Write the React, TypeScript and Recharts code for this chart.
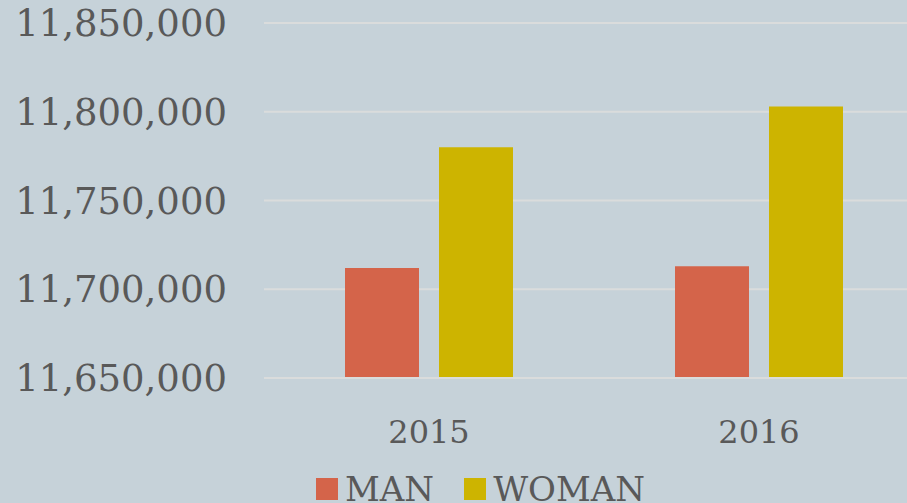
import React from 'react'
import { BarChart, Bar, XAxis, YAxis, CartesianGrid, Legend } from 'recharts'

const years = ['2015', '2016']
const manValues = [11712000, 11713000]
const womanValues = [11780000, 11803000]
const yTicks = [11650000, 11700000, 11750000, 11800000, 11850000]

const seriesNames = { man: 'MAN', woman: 'WOMAN' }
const colors = { man: '#d4644a', woman: '#cdb400' }

const data = years.map((year, i) => ({
  year,
  man: manValues[i],
  woman: womanValues[i],
}))

const FONT = '"DejaVu Serif", "Liberation Serif", serif'
const TEXT = '#595959'
const BG = '#c6d2d9'
const GRID = '#dadcdc'

const formatTick = (v: number) => v.toLocaleString('en-US')

const LegendContent = () => (
  <div style={{ display: 'flex', alignItems: 'center', fontFamily: FONT, color: TEXT, fontSize: 34 }}>
    {(['man', 'woman'] as const).map((key, i) => (
      <div key={key} style={{ display: 'flex', alignItems: 'center', marginLeft: i === 0 ? 0 : 30 }}>
        <span style={{ display: 'inline-block', width: 22, height: 22, background: colors[key], marginRight: 7 }} />
        <span style={{ lineHeight: '40px' }}>{seriesNames[key]}</span>
      </div>
    ))}
  </div>
)

const App = () => {
  return (
    <div style={{ position: 'fixed', top: 0, left: 0, width: 907, height: 503, overflow: 'hidden', background: BG }}>
      <BarChart
        width={930}
        height={503}
        data={data}
        margin={{ top: 23, right: 6, left: 0, bottom: 0 }}
        barSize={74}
        barGap={20}
      >
        <CartesianGrid vertical={false} stroke={GRID} strokeWidth={2} />
        <XAxis
          dataKey="year"
          height={65}
          tickLine={false}
          axisLine={{ stroke: GRID, strokeWidth: 2 }}
          tickMargin={36}
          tick={{ fill: TEXT, fontSize: 32, fontFamily: FONT }}
        />
        <YAxis
          width={264}
          domain={[11650000, 11850000]}
          ticks={yTicks}
          allowDataOverflow
          tickLine={false}
          axisLine={false}
          tickMargin={31}
          tickFormatter={formatTick}
          tick={{ fill: TEXT, fontSize: 37, fontFamily: FONT }}
        />
        <Legend
          verticalAlign="bottom"
          height={60}
          content={<LegendContent />}
          wrapperStyle={{ left: 316, top: 469, width: 'auto' }}
        />
        <Bar dataKey="man" name={seriesNames.man} fill={colors.man} isAnimationActive={false} />
        <Bar dataKey="woman" name={seriesNames.woman} fill={colors.woman} isAnimationActive={false} />
      </BarChart>
    </div>
  )
}

export default App
